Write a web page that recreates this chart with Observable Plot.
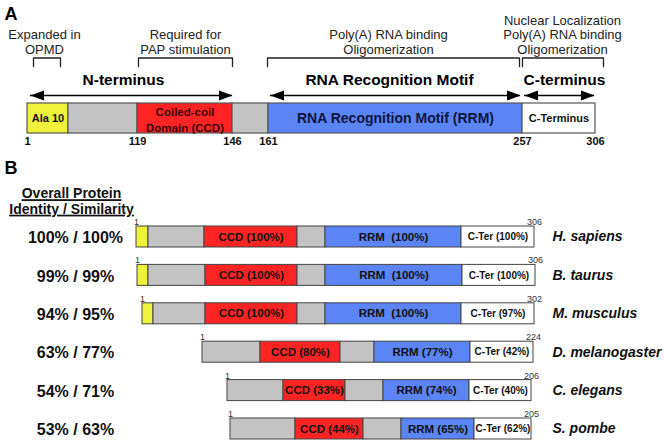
<!DOCTYPE html>
<html><head><meta charset="utf-8">
<script src="https://cdn.jsdelivr.net/npm/d3@7"></script>
<script src="https://cdn.jsdelivr.net/npm/@observablehq/plot@0.6"></script>
<style>
body{margin:0;background:#fff;}
#chart svg{display:block;}
</style></head><body><div id="chart"></div>
<script>
const FONT = "'Liberation Sans', Arial, Helvetica, sans-serif";

// ---------- Panel A : human PABPN1 domain schematic (schematic units) ----------
const domainKind  = ["ala", "gap", "ccd", "gap", "rrm", "cter"];
const domainLabel = ["Ala 10", "", "Coiled-coil\nDomain (CCD)", "", "RNA Recognition Motif (RRM)", "C-Terminus"];
const domainFrom  = [27, 68, 137, 232, 268, 522];
const domainTo    = [68, 137, 232, 268, 522, 595];
const residueTicks  = ["1", "119", "146", "161", "257", "306"];
const residueTickAt = [27, 137, 232, 268, 522, 595];
const regionLabel   = ["N-terminus", "RNA Recognition Motif", "C-terminus"];
const regionFrom    = [30, 270, 524];
const regionTo      = [232, 520, 594];
const regionLabelAt = [123, 389, 564];
const functionLabel = ["Expanded in\nOPMD", "Required for\nPAP stimulation", "Poly(A) RNA binding\nOligomerization", "Nuclear Localization\nPoly(A) RNA binding\nOligomerization"];
const bracketFrom   = [33, 138, 267, 522];
const bracketTo     = [60, 232, 519, 603];
const functionLabelAt = [44, 185, 388, 562];

// ---------- Panel B : orthologues ----------
const species       = ["H. sapiens", "B. taurus", "M. musculus", "D. melanogaster", "C. elegans", "S. pombe"];
const identity      = ["100% / 100%", "99% / 99%", "94% / 95%", "63% / 77%", "54% / 71%", "53% / 63%"];
const proteinLength = [306, 306, 302, 224, 206, 205];
const ccdIdentity   = [100, 100, 100, 80, 33, 44];
const rrmIdentity   = [100, 100, 100, 77, 74, 65];
const cterIdentity  = [100, 100, 97, 42, 40, 62];
const barStart = [136, 137, 142, 202, 227, 230];
const alaEnd   = [148, 148, 153, null, null, null];
const ccdStart = [204, 205, 205, 260, 283, 295];
const ccdEnd   = [297, 297, 297, 340, 345, 363];
const rrmStart = [325, 325, 325, 374, 383, 401];
const rrmEnd   = [461, 462, 461, 470, 469, 474];
const barEnd   = [534, 535, 534, 533, 531, 531];

const kinds = ["ala", "gap", "ccd", "rrm", "cter"];
const kindColors = ["#eef23a", "#c3c3c3", "#ff2424", "#5b84f5", "#ffffff"];

// arrowhead symbols (filled, elongated)
const headRight = {draw(ctx, size) { const r = Math.sqrt(size / Math.PI); ctx.moveTo(0, 0); ctx.lineTo(-2.7 * r, -r); ctx.lineTo(-2.7 * r, r); ctx.closePath(); }};
const headLeft  = {draw(ctx, size) { const r = Math.sqrt(size / Math.PI); ctx.moveTo(0, 0); ctx.lineTo(2.7 * r, -r); ctx.lineTo(2.7 * r, r); ctx.closePath(); }};

const bracketPts = [];
bracketFrom.forEach((f, i) => {
  const t = bracketTo[i];
  bracketPts.push({b: i, x: f, y: 66}, {b: i, x: f, y: 57.5}, {b: i, x: t, y: 57.5}, {b: i, x: t, y: 66});
});
const idxA = d3.range(domainKind.length);

const plotA = Plot.plot({
  width: 664, height: 150, margin: 0,
  x: {domain: [0, 664], range: [0, 664], axis: null},
  y: {domain: [0, 150], range: [0, 150], axis: null},
  color: {domain: kinds, range: kindColors},
  style: {fontFamily: FONT, background: "white", color: "black"},
  marks: [
    Plot.text(["A"], {frameAnchor: "top-left", dx: 4, dy: 7, lineAnchor: "top", text: d => d, fontSize: 18, fontWeight: "bold", fill: "black"}),
    Plot.text(functionLabel, {x: (d, i) => functionLabelAt[i], y: () => 53, text: d => d, lineAnchor: "bottom", fontSize: 13, lineHeight: 1.09, fill: "#222"}),
    Plot.line(bracketPts, {x: "x", y: "y", z: "b", stroke: "#222", strokeWidth: 1.3}),
    Plot.text(regionLabel, {x: (d, i) => regionLabelAt[i], y: () => 80, text: d => d, fontSize: 15.5, fontWeight: "bold", fill: "black"}),
    Plot.ruleY(regionLabel, {y: () => 95, x1: (d, i) => regionFrom[i], x2: (d, i) => regionTo[i], stroke: "black", strokeWidth: 1.5}),
    Plot.dot(regionLabel, {x: (d, i) => regionFrom[i], y: () => 95, symbol: headLeft, r: 5, fill: "black", stroke: "none"}),
    Plot.dot(regionLabel, {x: (d, i) => regionTo[i], y: () => 95, symbol: headRight, r: 5, fill: "black", stroke: "none"}),
    Plot.rect(idxA, {x1: i => domainFrom[i], x2: i => domainTo[i], y1: () => 103, y2: () => 133, fill: i => domainKind[i], stroke: "#555", strokeWidth: 1.2}),
    Plot.text(idxA, {filter: i => domainKind[i] === "ala" || domainKind[i] === "cter", x: i => (domainFrom[i] + domainTo[i]) / 2, y: () => 118, text: i => domainLabel[i], fontSize: 11, fontWeight: "bold", fill: "#111"}),
    Plot.text(idxA, {filter: i => domainKind[i] === "ccd", x: i => (domainFrom[i] + domainTo[i]) / 2, y: () => 118, text: i => domainLabel[i], fontSize: 11.5, lineHeight: 1.38, fontWeight: "bold", fill: "#3a0404"}),
    Plot.text(idxA, {filter: i => domainKind[i] === "rrm", x: i => (domainFrom[i] + domainTo[i]) / 2, y: () => 118, text: i => domainLabel[i], fontSize: 14, fontWeight: "bold", fill: "#0d1640"}),
    Plot.text(residueTicks, {x: (d, i) => residueTickAt[i], y: () => 140.5, text: d => d, fontSize: 11, fontWeight: "bold", fill: "#111"})
  ]
});

// ---------- Panel B ----------
const segs = [];
species.forEach((s, i) => {
  let x = barStart[i];
  if (alaEnd[i] != null) { segs.push({species: s, kind: "ala", x1: barStart[i], x2: alaEnd[i]}); x = alaEnd[i]; }
  segs.push({species: s, kind: "gap", x1: x, x2: ccdStart[i]});
  segs.push({species: s, kind: "ccd", x1: ccdStart[i], x2: ccdEnd[i], label: `CCD (${ccdIdentity[i]}%)`});
  segs.push({species: s, kind: "gap", x1: ccdEnd[i], x2: rrmStart[i]});
  segs.push({species: s, kind: "rrm", x1: rrmStart[i], x2: rrmEnd[i], label: `RRM${rrmIdentity[i] === 100 ? "\u00a0 " : " "}(${rrmIdentity[i]}%)`});
  segs.push({species: s, kind: "cter", x1: rrmEnd[i], x2: barEnd[i], label: `C-Ter (${cterIdentity[i]}%)`});
});

const plotB = Plot.plot({
  width: 664, height: 293, margin: 0,
  x: {domain: [0, 664], range: [0, 664], axis: null},
  y: {type: "band", domain: species, range: [76, 289], paddingInner: 0.453, paddingOuter: 0, align: 0, round: false, axis: null},
  color: {domain: kinds, range: kindColors},
  style: {fontFamily: FONT, background: "white", color: "black"},
  marks: [
    Plot.text(["B"], {frameAnchor: "top-left", dx: 4, dy: 10.7, lineAnchor: "top", text: d => d, fontSize: 18, fontWeight: "bold", fill: "black"}),
    Plot.text(["Overall Protein\nIdentity / Similarity"], {frameAnchor: "top-left", dx: 71, dy: 37, lineAnchor: "top", textAnchor: "middle", lineHeight: 1.1, text: d => d, fontSize: 14, fontWeight: "bold", fill: "#111"}),
    Plot.barX(segs, {x1: "x1", x2: "x2", y: "species", fill: "kind", stroke: "#444", strokeWidth: 1}),
    Plot.text(segs.filter(d => d.kind === "ccd" || d.kind === "rrm"), {x: d => (d.x1 + d.x2) / 2, y: "species", text: "label", fontSize: 11.5, fontWeight: "bold", fill: "#111"}),
    Plot.text(segs.filter(d => d.kind === "cter"), {x: d => (d.x1 + d.x2) / 2, y: "species", text: "label", fontSize: 10, fontWeight: "bold", fill: "#111"}),
    Plot.text(species, {x: (d, i) => barStart[i], y: d => d, text: () => "1", dy: -12, lineAnchor: "bottom", fontSize: 9, fill: "#333"}),
    Plot.text(species, {x: (d, i) => barEnd[i], y: d => d, text: (d, i) => String(proteinLength[i]), dy: -12, lineAnchor: "bottom", fontSize: 9, fill: "#333"}),
    Plot.text(species, {x: () => 75, y: d => d, dy: 1, text: (d, i) => identity[i], fontSize: 16, fontWeight: "bold", fill: "#111"}),
    Plot.text(species, {x: () => 552, y: d => d, text: d => d, textAnchor: "start", fontSize: 14, fontWeight: "bold", fontStyle: "italic", fill: "#111"})
  ]
});
// underline the column header
plotB.querySelectorAll("text").forEach(t => {
  if (t.textContent.includes("Overall Protein")) {
    t.setAttribute("text-decoration", "underline");
    t.style.textDecoration = "underline";
    t.querySelectorAll("tspan").forEach(s => { s.setAttribute("text-decoration", "underline"); s.style.textDecoration = "underline"; });
  }
});

const root = document.getElementById("chart");
root.appendChild(plotA);
root.appendChild(plotB);
</script></body></html>
